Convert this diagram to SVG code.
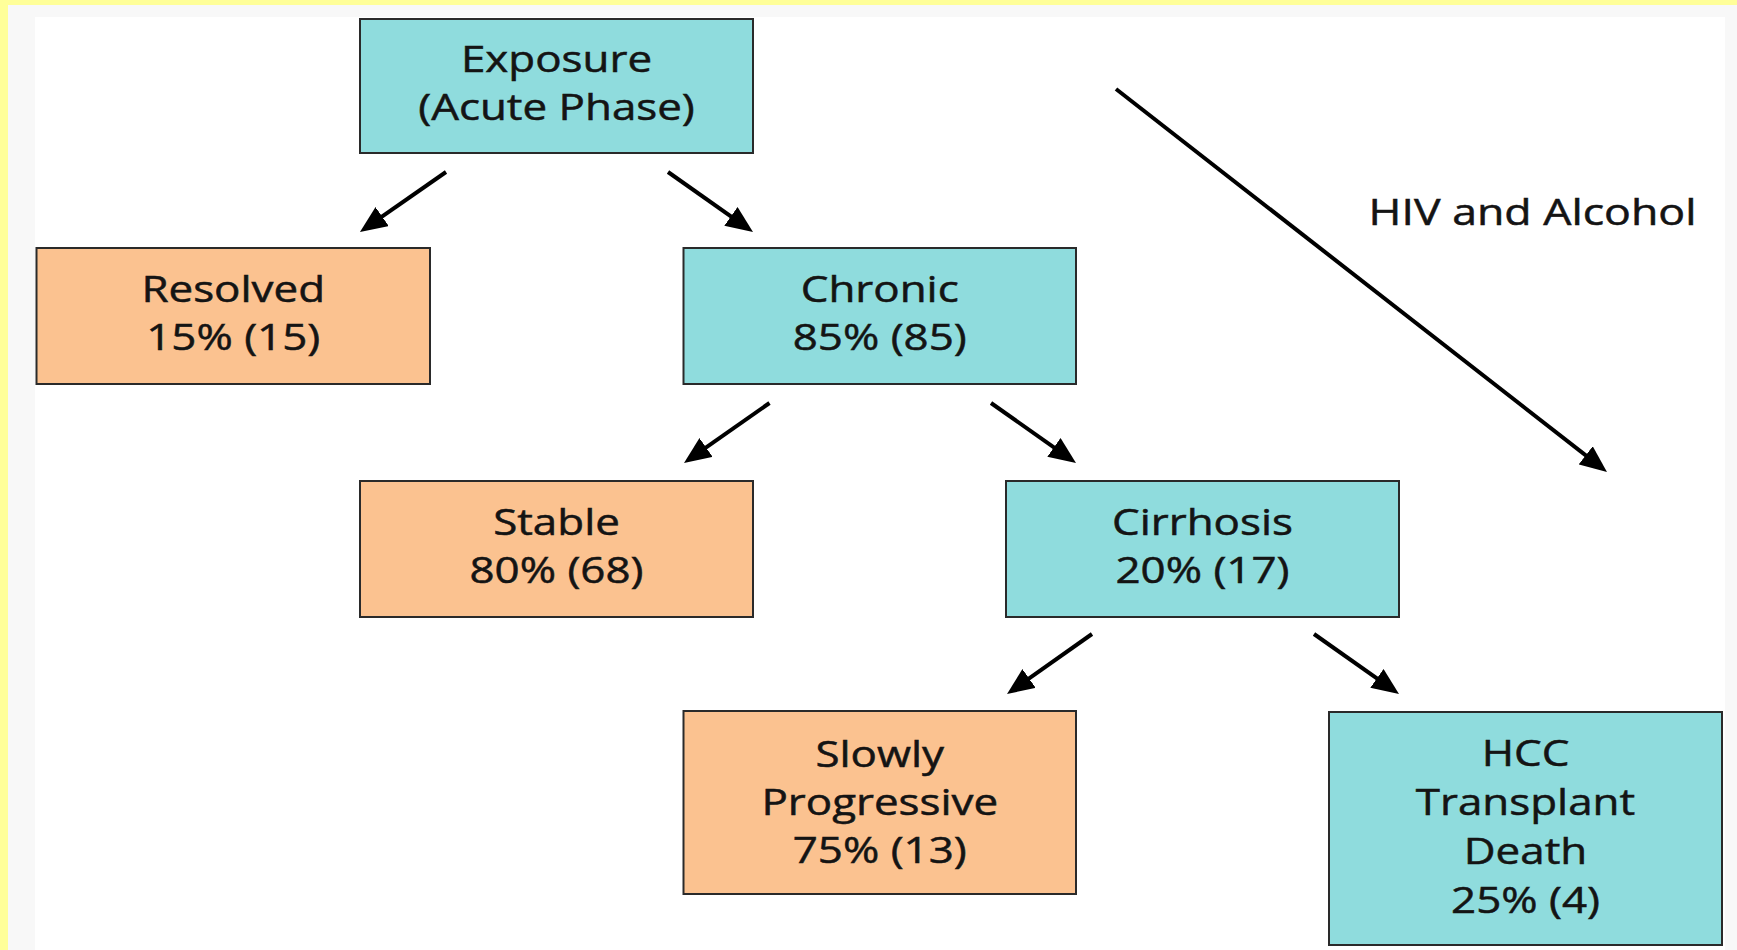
<svg xmlns="http://www.w3.org/2000/svg" width="1737" height="950" viewBox="0 0 1737 950">
<style>
.box{stroke:#2a2a2a;stroke-width:2}
.teal{fill:#8fdcdd}
.orange{fill:#fbc290}
.lbl{font-family:"Open Sans","Liberation Sans",sans-serif;font-size:36px;fill:#141414;stroke:#141414;stroke-width:0.5;text-anchor:middle}
.conn{stroke:#000;stroke-width:4;fill:none;marker-end:url(#ah)}
</style>
<defs>
<marker id="ah" markerUnits="userSpaceOnUse" markerWidth="27" markerHeight="23" viewBox="0 0 27 23" refX="16" refY="11.5" orient="auto">
<path d="M0,0 L27,11.5 L0,23 z" fill="#000"/>
</marker>
</defs>
<rect x="0" y="0" width="1737" height="950" fill="#ffff99"/>
<rect x="8" y="5" width="1729" height="945" fill="#f8f8f8"/>
<rect x="35" y="17" width="1690" height="933" fill="#ffffff"/>

<g id="connectors">
<line class="conn" x1="446" y1="172" x2="369" y2="225.7"/>
<line class="conn" x1="668" y1="172" x2="744" y2="225.6"/>
<line class="conn" x1="769.5" y1="403" x2="693" y2="456.7"/>
<line class="conn" x1="991" y1="403" x2="1067" y2="456.6"/>
<line class="conn" x1="1092" y1="634" x2="1016" y2="687.7"/>
<line class="conn" x1="1314" y1="634" x2="1390" y2="687.6"/>
<line class="conn" x1="1116" y1="89" x2="1598.3" y2="465.2"/>
<g transform="translate(1532.5,0) scale(1.24,1)"><text class="lbl" x="0" y="225">HIV and Alcohol</text></g>
</g>

<g id="exposure">
<rect class="box teal" x="360" y="19" width="393" height="134"/>
<g transform="translate(556.5,0) scale(1.22,1)">
<text class="lbl" x="0" y="72">Exposure</text>
<text class="lbl" x="0" y="120">(Acute Phase)</text>
</g>
</g>

<g id="resolved">
<rect class="box orange" x="36.5" y="248" width="393.5" height="136"/>
<g transform="translate(233.25,0) scale(1.22,1)">
<text class="lbl" x="0" y="302">Resolved</text>
<text class="lbl" x="0" y="350">15% (15)</text>
</g>
</g>

<g id="chronic">
<rect class="box teal" x="683.5" y="248" width="392.5" height="136"/>
<g transform="translate(879.75,0) scale(1.22,1)">
<text class="lbl" x="0" y="302">Chronic</text>
<text class="lbl" x="0" y="350">85% (85)</text>
</g>
</g>

<g id="stable">
<rect class="box orange" x="360" y="481" width="393" height="136"/>
<g transform="translate(556.5,0) scale(1.22,1)">
<text class="lbl" x="0" y="535">Stable</text>
<text class="lbl" x="0" y="583">80% (68)</text>
</g>
</g>

<g id="cirrhosis">
<rect class="box teal" x="1006" y="481" width="393" height="136"/>
<g transform="translate(1202.5,0) scale(1.22,1)">
<text class="lbl" x="0" y="535">Cirrhosis</text>
<text class="lbl" x="0" y="583">20% (17)</text>
</g>
</g>

<g id="slowly">
<rect class="box orange" x="683.5" y="711" width="392.5" height="183"/>
<g transform="translate(879.75,0) scale(1.22,1)">
<text class="lbl" x="0" y="767">Slowly</text>
<text class="lbl" x="0" y="815">Progressive</text>
<text class="lbl" x="0" y="863">75% (13)</text>
</g>
</g>

<g id="hcc">
<rect class="box teal" x="1329" y="712" width="393" height="233"/>
<g transform="translate(1525.5,0) scale(1.22,1)">
<text class="lbl" x="0" y="766">HCC</text>
<text class="lbl" x="0" y="815">Transplant</text>
<text class="lbl" x="0" y="864">Death</text>
<text class="lbl" x="0" y="913">25% (4)</text>
</g>
</g>
</svg>
